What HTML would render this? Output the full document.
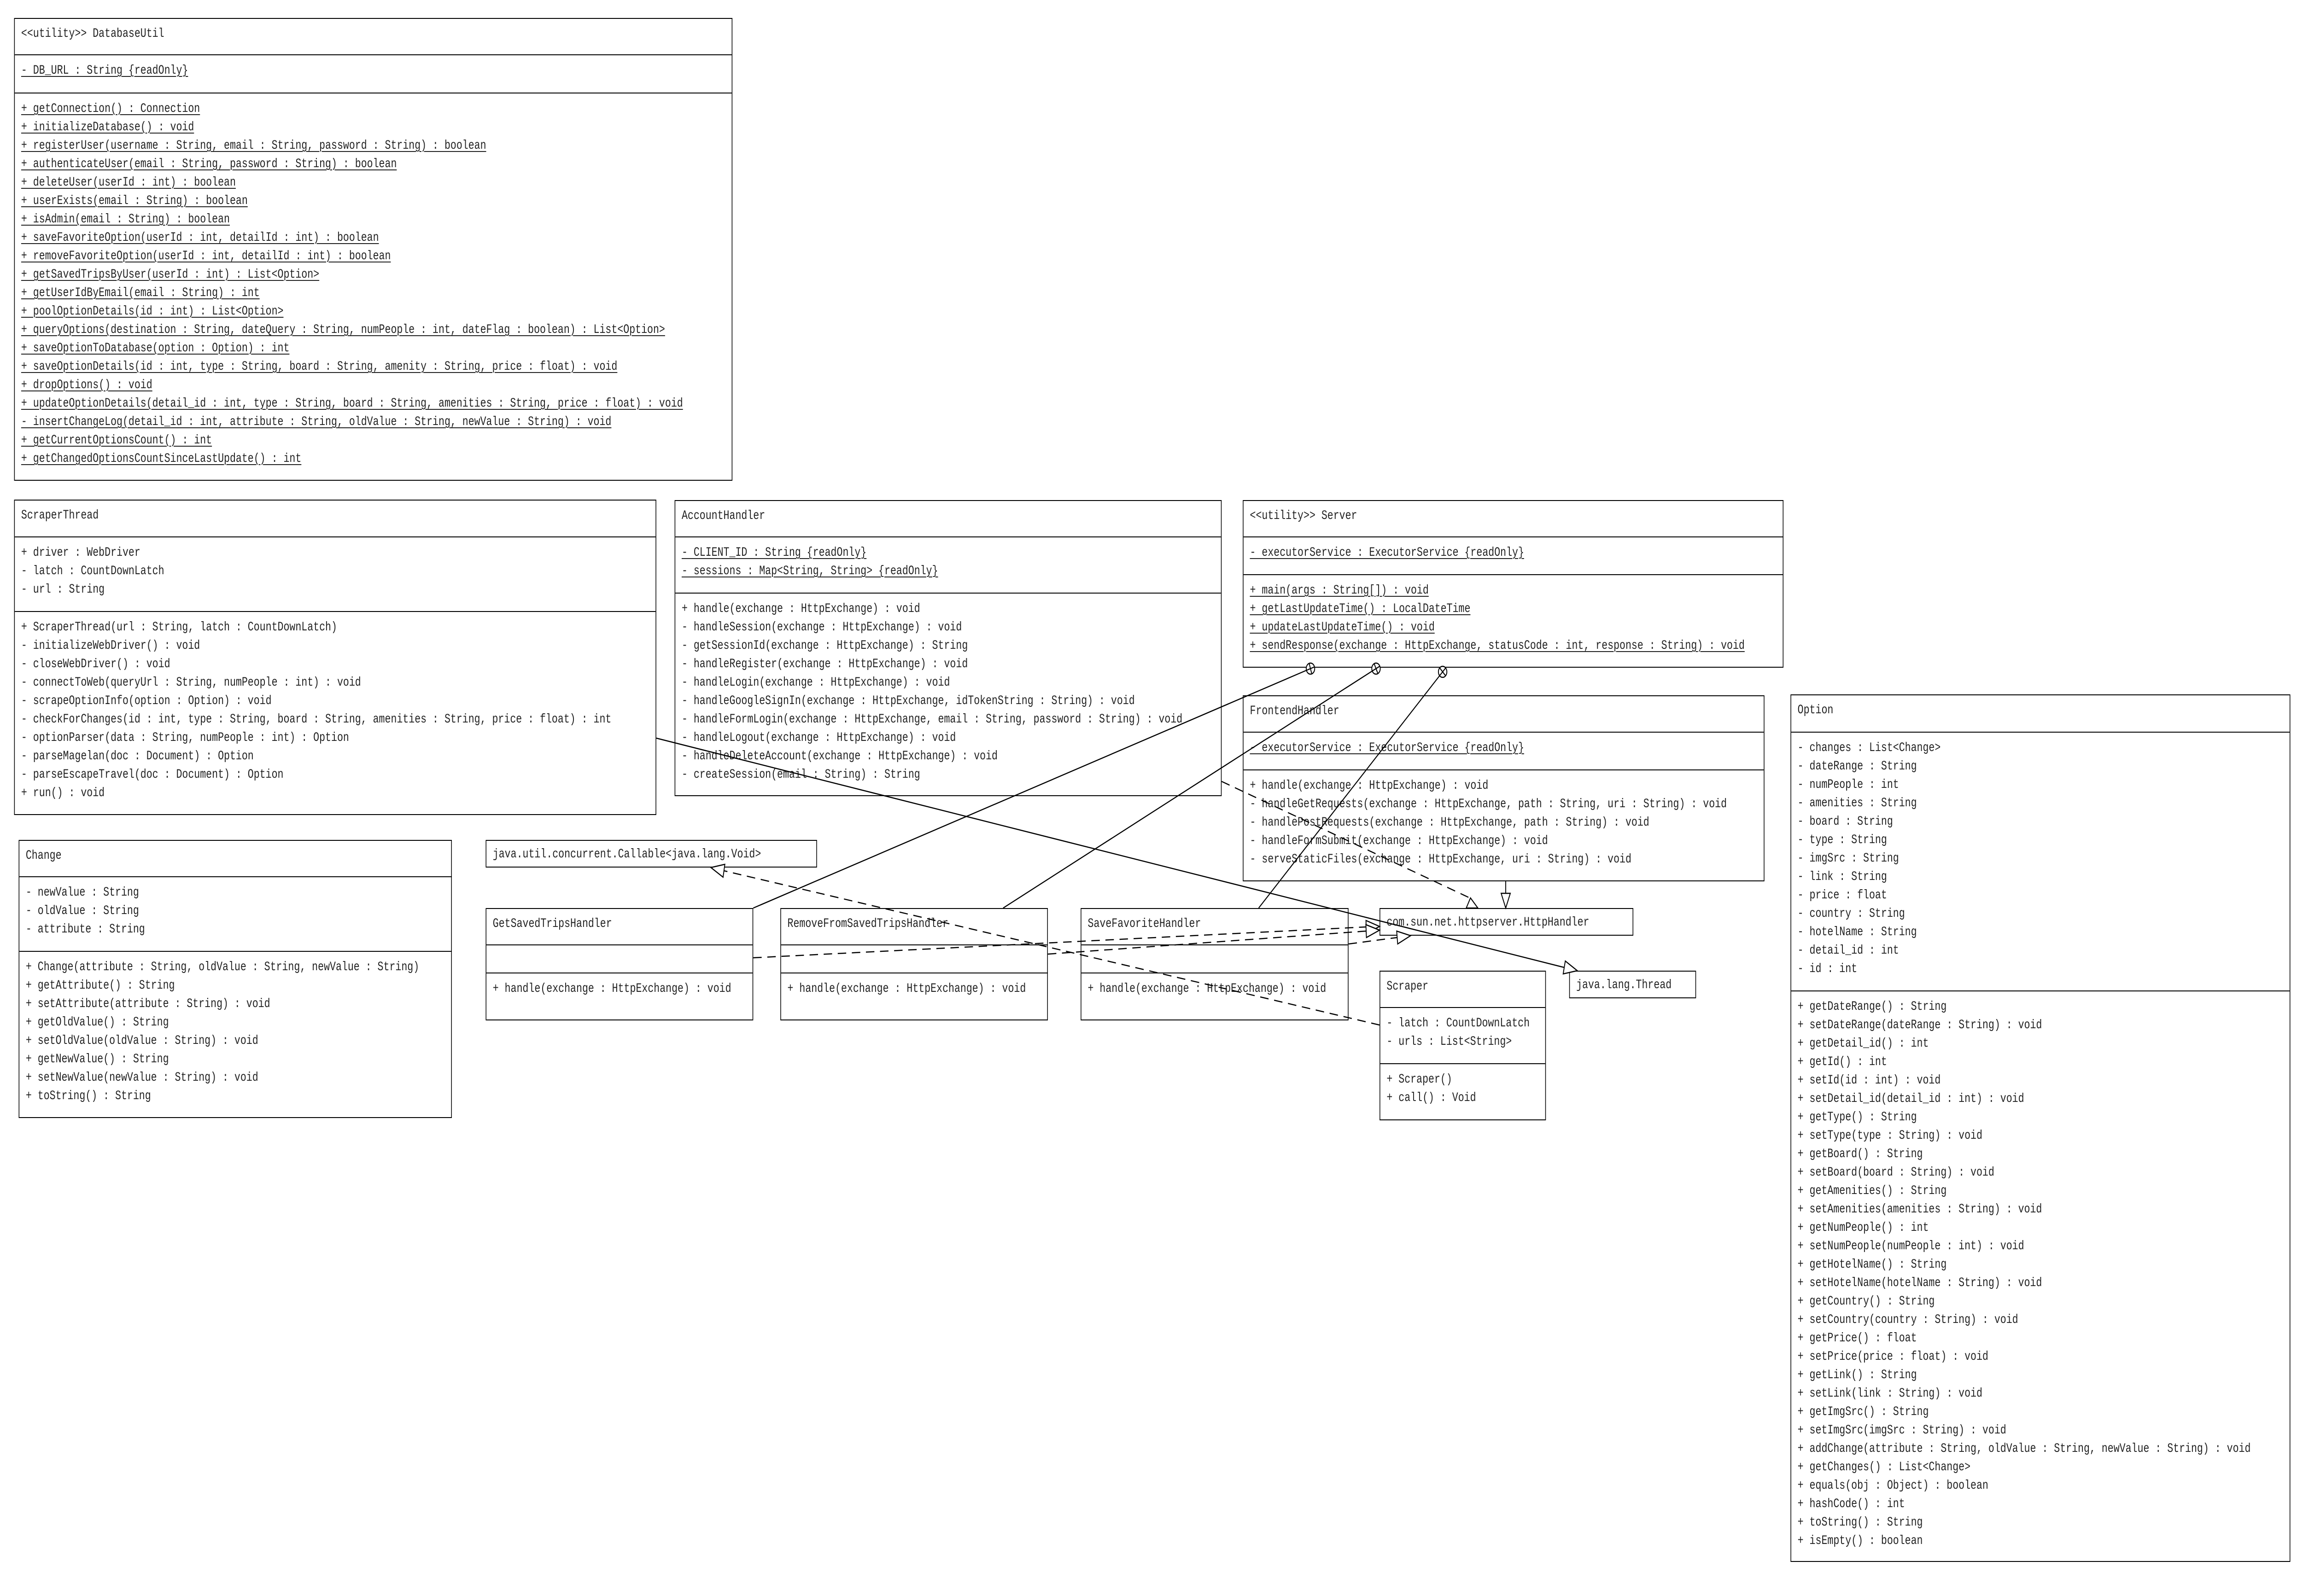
<!DOCTYPE html>
<html><head><meta charset="utf-8">
<style>
html,body{margin:0;padding:0;background:#fff;overflow:hidden;}
#stage{position:absolute;left:0;top:0;width:6534px;height:3466px;transform-origin:0 0;background:#fff;overflow:hidden;}
.b{position:absolute;border:2px solid #000;box-sizing:border-box;background:#fff;}
.d{position:absolute;left:0;right:0;height:0;border-top:2px solid #000;}
.t{position:absolute;left:18px;white-space:pre;font:28.2px/40px "Liberation Mono","DejaVu Sans Mono",monospace;color:#222;}
.u{text-decoration:underline;text-decoration-thickness:2px;text-underline-offset:5px;}
svg{position:absolute;left:0;top:0;}
</style></head><body>
<div id="stage">

<div class="b" style="left:40px;top:39px;width:2038px;height:1005px">
<div class="t" style="top:13px">&lt;&lt;utility&gt;&gt; DatabaseUtil</div>
<div class="d" style="top:77px"></div>
<div class="t" style="top:93px"><span class="u">- DB_URL : String {readOnly}</span></div>
<div class="d" style="top:160px"></div>
<div class="t" style="top:176px"><span class="u">+ getConnection() : Connection</span>
<span class="u">+ initializeDatabase() : void</span>
<span class="u">+ registerUser(username : String, email : String, password : String) : boolean</span>
<span class="u">+ authenticateUser(email : String, password : String) : boolean</span>
<span class="u">+ deleteUser(userId : int) : boolean</span>
<span class="u">+ userExists(email : String) : boolean</span>
<span class="u">+ isAdmin(email : String) : boolean</span>
<span class="u">+ saveFavoriteOption(userId : int, detailId : int) : boolean</span>
<span class="u">+ removeFavoriteOption(userId : int, detailId : int) : boolean</span>
<span class="u">+ getSavedTripsByUser(userId : int) : List&lt;Option&gt;</span>
<span class="u">+ getUserIdByEmail(email : String) : int</span>
<span class="u">+ poolOptionDetails(id : int) : List&lt;Option&gt;</span>
<span class="u">+ queryOptions(destination : String, dateQuery : String, numPeople : int, dateFlag : boolean) : List&lt;Option&gt;</span>
<span class="u">+ saveOptionToDatabase(option : Option) : int</span>
<span class="u">+ saveOptionDetails(id : int, type : String, board : String, amenity : String, price : float) : void</span>
<span class="u">+ dropOptions() : void</span>
<span class="u">+ updateOptionDetails(detail_id : int, type : String, board : String, amenities : String, price : float) : void</span>
<span class="u">- insertChangeLog(detail_id : int, attribute : String, oldValue : String, newValue : String) : void</span>
<span class="u">+ getCurrentOptionsCount() : int</span>
<span class="u">+ getChangedOptionsCountSinceLastUpdate() : int</span></div>
</div>

<div class="b" style="left:40px;top:1085px;width:1822px;height:685px">
<div class="t" style="top:13px">ScraperThread</div>
<div class="d" style="top:78px"></div>
<div class="t" style="top:94px">+ driver : WebDriver
- latch : CountDownLatch
- url : String</div>
<div class="d" style="top:240px"></div>
<div class="t" style="top:256px">+ ScraperThread(url : String, latch : CountDownLatch)
- initializeWebDriver() : void
- closeWebDriver() : void
- connectToWeb(queryUrl : String, numPeople : int) : void
- scrapeOptionInfo(option : Option) : void
- checkForChanges(id : int, type : String, board : String, amenities : String, price : float) : int
- optionParser(data : String, numPeople : int) : Option
- parseMagelan(doc : Document) : Option
- parseEscapeTravel(doc : Document) : Option
+ run() : void</div>
</div>

<div class="b" style="left:53px;top:1824px;width:1229px;height:604px">
<div class="t" style="top:13px">Change</div>
<div class="d" style="top:77px"></div>
<div class="t" style="top:93px">- newValue : String
- oldValue : String
- attribute : String</div>
<div class="d" style="top:239px"></div>
<div class="t" style="top:255px">+ Change(attribute : String, oldValue : String, newValue : String)
+ getAttribute() : String
+ setAttribute(attribute : String) : void
+ getOldValue() : String
+ setOldValue(oldValue : String) : void
+ getNewValue() : String
+ setNewValue(newValue : String) : void
+ toString() : String</div>
</div>

<div class="b" style="left:1378px;top:1824px;width:940px;height:60px">
<div class="t" style="top:10px">java.util.concurrent.Callable&lt;java.lang.Void&gt;</div>
</div>

<div class="b" style="left:1378px;top:1972px;width:759px;height:244px">
<div class="t" style="top:13px">GetSavedTripsHandler</div>
<div class="d" style="top:77px"></div>
<div class="d" style="top:138px"></div>
<div class="t" style="top:154px">+ handle(exchange : HttpExchange) : void</div>
</div>

<div class="b" style="left:2214px;top:1972px;width:759px;height:244px">
<div class="t" style="top:13px">RemoveFromSavedTripsHandler</div>
<div class="d" style="top:77px"></div>
<div class="d" style="top:138px"></div>
<div class="t" style="top:154px">+ handle(exchange : HttpExchange) : void</div>
</div>

<div class="b" style="left:3066px;top:1972px;width:760px;height:244px">
<div class="t" style="top:13px">SaveFavoriteHandler</div>
<div class="d" style="top:77px"></div>
<div class="d" style="top:138px"></div>
<div class="t" style="top:154px">+ handle(exchange : HttpExchange) : void</div>
</div>

<div class="b" style="left:1914px;top:1086px;width:1552px;height:643px">
<div class="t" style="top:13px">AccountHandler</div>
<div class="d" style="top:77px"></div>
<div class="t" style="top:93px"><span class="u">- CLIENT_ID : String {readOnly}</span>
<span class="u">- sessions : Map&lt;String, String&gt; {readOnly}</span></div>
<div class="d" style="top:199px"></div>
<div class="t" style="top:215px">+ handle(exchange : HttpExchange) : void
- handleSession(exchange : HttpExchange) : void
- getSessionId(exchange : HttpExchange) : String
- handleRegister(exchange : HttpExchange) : void
- handleLogin(exchange : HttpExchange) : void
- handleGoogleSignIn(exchange : HttpExchange, idTokenString : String) : void
- handleFormLogin(exchange : HttpExchange, email : String, password : String) : void
- handleLogout(exchange : HttpExchange) : void
- handleDeleteAccount(exchange : HttpExchange) : void
- createSession(email : String) : String</div>
</div>

<div class="b" style="left:3526px;top:1086px;width:1534px;height:364px">
<div class="t" style="top:13px">&lt;&lt;utility&gt;&gt; Server</div>
<div class="d" style="top:77px"></div>
<div class="t" style="top:93px"><span class="u">- executorService : ExecutorService {readOnly}</span></div>
<div class="d" style="top:159px"></div>
<div class="t" style="top:175px"><span class="u">+ main(args : String[]) : void</span>
<span class="u">+ getLastUpdateTime() : LocalDateTime</span>
<span class="u">+ updateLastUpdateTime() : void</span>
<span class="u">+ sendResponse(exchange : HttpExchange, statusCode : int, response : String) : void</span></div>
</div>

<div class="b" style="left:3526px;top:1510px;width:1480px;height:404px">
<div class="t" style="top:13px">FrontendHandler</div>
<div class="d" style="top:77px"></div>
<div class="t" style="top:93px"><span class="u">- executorService : ExecutorService {readOnly}</span></div>
<div class="d" style="top:159px"></div>
<div class="t" style="top:175px">+ handle(exchange : HttpExchange) : void
- handleGetRequests(exchange : HttpExchange, path : String, uri : String) : void
- handlePostRequests(exchange : HttpExchange, path : String) : void
- handleFormSubmit(exchange : HttpExchange) : void
- serveStaticFiles(exchange : HttpExchange, uri : String) : void</div>
</div>

<div class="b" style="left:3914px;top:1972px;width:720px;height:60px">
<div class="t" style="top:10px">com.sun.net.httpserver.HttpHandler</div>
</div>

<div class="b" style="left:4452px;top:2108px;width:360px;height:60px">
<div class="t" style="top:10px">java.lang.Thread</div>
</div>

<div class="b" style="left:3914px;top:2108px;width:472px;height:325px">
<div class="t" style="top:13px">Scraper</div>
<div class="d" style="top:77px"></div>
<div class="t" style="top:93px">- latch : CountDownLatch
- urls : List&lt;String&gt;</div>
<div class="d" style="top:199px"></div>
<div class="t" style="top:215px">+ Scraper()
+ call() : Void</div>
</div>

<div class="b" style="left:5080px;top:1508px;width:1418px;height:1884px">
<div class="t" style="top:13px">Option</div>
<div class="d" style="top:79px"></div>
<div class="t" style="top:95px">- changes : List&lt;Change&gt;
- dateRange : String
- numPeople : int
- amenities : String
- board : String
- type : String
- imgSrc : String
- link : String
- price : float
- country : String
- hotelName : String
- detail_id : int
- id : int</div>
<div class="d" style="top:641px"></div>
<div class="t" style="top:657px">+ getDateRange() : String
+ setDateRange(dateRange : String) : void
+ getDetail_id() : int
+ getId() : int
+ setId(id : int) : void
+ setDetail_id(detail_id : int) : void
+ getType() : String
+ setType(type : String) : void
+ getBoard() : String
+ setBoard(board : String) : void
+ getAmenities() : String
+ setAmenities(amenities : String) : void
+ getNumPeople() : int
+ setNumPeople(numPeople : int) : void
+ getHotelName() : String
+ setHotelName(hotelName : String) : void
+ getCountry() : String
+ setCountry(country : String) : void
+ getPrice() : float
+ setPrice(price : float) : void
+ getLink() : String
+ setLink(link : String) : void
+ getImgSrc() : String
+ setImgSrc(imgSrc : String) : void
+ addChange(attribute : String, oldValue : String, newValue : String) : void
+ getChanges() : List&lt;Change&gt;
+ equals(obj : Object) : boolean
+ hashCode() : int
+ toString() : String
+ isEmpty() : boolean</div>
</div>

<svg width="6534" height="3466" viewBox="0 0 6534 3466">
<g stroke="#000" stroke-width="2.5" fill="none">
<line x1="1862" y1="1603" x2="4438" y2="2101"/>
<polygon points="4475,2108 4435,2115 4441,2087" fill="#fff"/>
<line x1="2137" y1="1972" x2="3718" y2="1452"/>
<line x1="2846" y1="1972" x2="3904" y2="1452"/>
<line x1="3571" y1="1972" x2="4093" y2="1459"/>
<circle cx="3718" cy="1452" r="12" fill="#fff"/>
<line x1="3706.6" y1="1455.75" x2="3729.4" y2="1448.25"/>
<line x1="3721.75" y1="1463.4" x2="3714.25" y2="1440.6"/>
<circle cx="3904" cy="1452" r="12" fill="#fff"/>
<line x1="3893.2" y1="1457.3" x2="3914.8" y2="1446.7"/>
<line x1="3909.3" y1="1462.8" x2="3898.7" y2="1441.2"/>
<circle cx="4093" cy="1459" r="12" fill="#fff"/>
<line x1="4084.4" y1="1467.4" x2="4101.6" y2="1450.6"/>
<line x1="4101.4" y1="1467.6" x2="4084.6" y2="1450.4"/>
</g>
<g stroke="#000" stroke-width="2.5" fill="none" stroke-dasharray="24 16">
<line x1="3914" y1="2226" x2="2054" y2="1891"/>
<line x1="2137" y1="2080" x2="3876" y2="2013"/>
<line x1="2973" y1="2072" x2="3876" y2="2022"/>
<line x1="3826" y1="2050" x2="3964" y2="2036"/>
<line x1="3466" y1="1697" x2="4170" y2="1950"/>
</g>
<g stroke="#000" stroke-width="2.5" fill="#fff">
<polygon points="2017,1884 2056.5,1877 2051.5,1905"/>
<polygon points="3914,2012 3876.5,2027 3875.5,1999"/>
<polygon points="3914,2020 3876.8,2036 3875.2,2008"/>
<polygon points="4002,2032 3965.4,2050 3962.6,2022"/>
<polygon points="4172,1950 4160,1972 4193,1972"/>
<line x1="4272" y1="1914" x2="4272" y2="1940"/>
<polygon points="4259,1940 4285,1940 4272,1972"/>
</g>
</svg>
</div>
<script>
(function(){
  function fit(){
    var s=document.getElementById('stage');
    var w=window.innerWidth||document.documentElement.clientWidth||6534;
    var h=window.innerHeight||document.documentElement.clientHeight||3466;
    var sx=w/6534, sy=h/3466;
    if(Math.abs(sx-1)<0.002 && Math.abs(sy-1)<0.002){s.style.transform='none';}
    else{s.style.transform='scale('+sx+','+sy+')';}
  }
  fit();
  window.addEventListener('resize',fit);
})();
</script>
</body></html>
